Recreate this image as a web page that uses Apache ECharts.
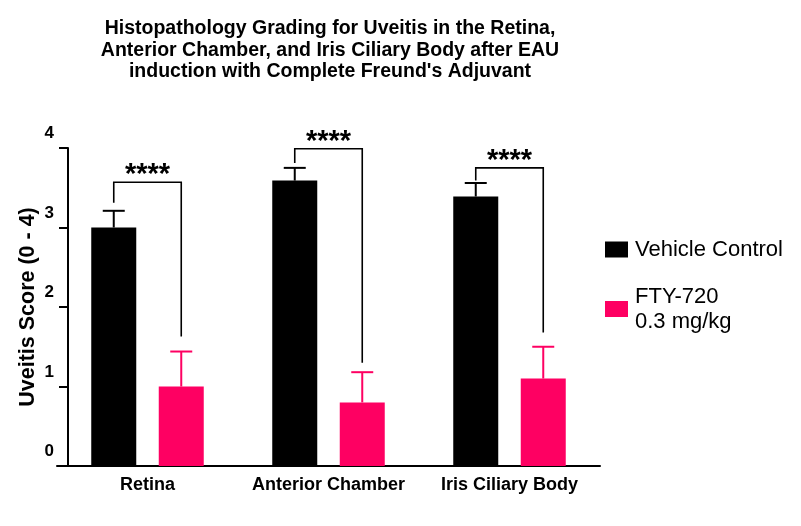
<!DOCTYPE html>
<html>
<head>
<meta charset="utf-8">
<script src="https://cdn.jsdelivr.net/npm/echarts@6/dist/echarts.min.js"></script>
<style>
  html, body { margin: 0; padding: 0; background: #fff; }
  #chart { width: 801px; height: 526px; }
</style>
</head>
<body>
<div id="chart"></div>
<script>
// data
const categories = ['Retina', 'Anterior Chamber', 'Iris Ciliary Body']
const vehicleMean = [3.0, 3.59, 3.39]
const vehicleUpper = [3.21, 3.75, 3.56]   // top of error bar
const ftyMean = [1.0, 0.80, 1.10]
const ftyUpper = [1.44, 1.18, 1.50]
// significance brackets: height of bar, end of left leg, end of right leg
const bracketTop = [3.57, 3.99, 3.75]
const bracketLeftEnd = [3.31, 3.81, 3.59]
const bracketRightEnd = [1.63, 1.30, 1.68]
const sigLabels = ['****', '****', '****']
const yTicks = [0, 1, 2, 3, 4]

const PINK = '#fe0062'
const FONT = 'Liberation Sans'
const HALF = 33.75 // half distance between the two bar centres in a group

const chart = echarts.init(document.getElementById('chart'))

// error bar: stem from mean up to upper value, plus a cap
function errorRender(means, uppers, dx, color) {
  return function (params, api) {
    const i = api.value(0)
    const base = api.coord([i, means[i]])
    const top = api.coord([i, uppers[i]])
    const x = base[0] + dx
    return {
      type: 'group',
      children: [
        { type: 'line', shape: { x1: x, y1: base[1], x2: x, y2: top[1] }, style: { stroke: color, lineWidth: 2 } },
        { type: 'line', shape: { x1: x - 11, y1: top[1], x2: x + 11, y2: top[1] }, style: { stroke: color, lineWidth: 2 } }
      ]
    }
  }
}

function bracketRender(params, api) {
  const i = api.value(0)
  const c = api.coord([i, bracketTop[i]])
  const l = api.coord([i, bracketLeftEnd[i]])
  const r = api.coord([i, bracketRightEnd[i]])
  const lx = c[0] - HALF
  const rx = c[0] + HALF
  return {
    type: 'group',
    children: [
      {
        type: 'polyline',
        shape: { points: [[lx, l[1]], [lx, c[1]], [rx, c[1]], [rx, r[1]]] },
        style: { stroke: '#000', lineWidth: 1.6, fill: null }
      },
      {
        type: 'text',
        style: {
          text: sigLabels[i], x: c[0], y: c[1] - 7,
          align: 'center', verticalAlign: 'middle',
          font: 'bold 29px "' + FONT + '"', fill: '#000'
        }
      }
    ]
  }
}

const idx = categories.map((c, i) => [i])

const option = {
  backgroundColor: '#fff',
  animation: false,
  textStyle: { fontFamily: FONT },
  title: {
    text: "Histopathology Grading for Uveitis in the Retina,\nAnterior Chamber, and Iris Ciliary Body after EAU\ninduction with Complete Freund's Adjuvant",
    left: 325,
    top: 13,
    textAlign: 'center',
    textStyle: { fontFamily: FONT, fontSize: 19.5, fontWeight: 'bold', color: '#000', lineHeight: 21.5 }
  },
  legend: {
    data: ['Vehicle Control', 'FTY-720\n0.3 mg/kg'],
    orient: 'vertical',
    left: 600,
    top: 232,
    itemWidth: 23,
    itemHeight: 16,
    itemGap: 22,
    icon: 'rect',
    textStyle: { fontFamily: FONT, fontSize: 22, color: '#000', lineHeight: 25, padding: [0, 0, 0, 2] }
  },
  grid: { left: 57, right: 201, top: 148, bottom: 60 },
  xAxis: {
    type: 'category',
    data: categories,
    axisLine: { lineStyle: { color: '#000', width: 2 } },
    axisTick: { alignWithLabel: true, length: 7, lineStyle: { color: '#000', width: 2 } },
    axisLabel: { interval: 0, hideOverlap: false, color: '#000', fontSize: 18, fontWeight: 'bold', margin: 10, fontFamily: FONT }
  },
  yAxis: {
    type: 'value',
    min: 0,
    max: 4,
    interval: 1,
    offset: -11,
    name: 'Uveitis Score (0 - 4)',
    nameLocation: 'middle',
    nameGap: 29,
    nameMoveOverlap: false,
    nameTextStyle: { color: '#000', fontSize: 21.5, fontWeight: 'bold', fontFamily: FONT },
    axisLine: { show: true, lineStyle: { color: '#000', width: 2 } },
    axisTick: { show: true, length: 9, lineStyle: { color: '#000', width: 2 } },
    splitLine: { show: false },
    axisLabel: {
      color: '#000', fontSize: 17, fontWeight: 'bold', margin: 14, fontFamily: FONT,
      verticalAlign: 'bottom', padding: [0, 0, 6, 0],
      formatter: v => (yTicks.includes(v) ? String(v) : '')
    }
  },
  series: [
    {
      name: 'Vehicle Control',
      type: 'bar',
      data: vehicleMean,
      barWidth: 45,
      barGap: '50%',
      itemStyle: { color: '#000' }
    },
    {
      name: 'FTY-720\n0.3 mg/kg',
      type: 'bar',
      data: ftyMean,
      barWidth: 45,
      itemStyle: { color: PINK }
    },
    { type: 'custom', data: idx, renderItem: errorRender(vehicleMean, vehicleUpper, -HALF, '#000'), clip: false, z: 3 },
    { type: 'custom', data: idx, renderItem: errorRender(ftyMean, ftyUpper, HALF, PINK), clip: false, z: 3 },
    { type: 'custom', data: idx, renderItem: bracketRender, clip: false, z: 4 }
  ]
}

chart.setOption(option)
</script>
</body>
</html>
